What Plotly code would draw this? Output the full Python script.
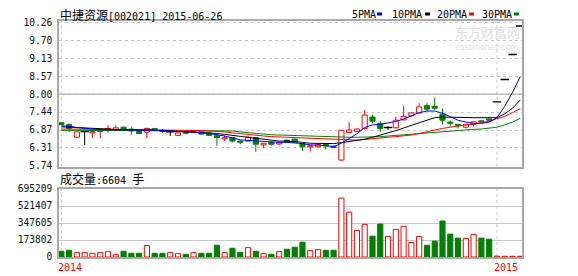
import plotly.graph_objects as go

# ---------------- data ----------------
opens = [7.10, 7.04, 6.64, 6.82, 6.78, 6.82, 6.86, 6.89, 6.96, 6.90,
         6.82, 6.80, 6.92, 6.86, 6.81, 6.70, 6.81, 6.79, 6.81, 6.78,
         6.69, 6.59, 6.63, 6.52, 6.52, 6.63, 6.40, 6.48, 6.43, 6.55,
         6.58, 6.44, 6.34, 6.34, 6.41, 6.36, 5.92, 6.79, 6.83, 6.92,
         7.28, 7.08, 6.95, 6.94, 7.19, 7.32, 7.41, 7.64, 7.62, 7.37,
         7.12, 7.05, 6.96, 7.05, 7.16, 7.22, 7.76, 8.47, 9.26, 10.16]
highs = [7.11, 7.08, 6.82, 6.83, 6.84, 6.87, 7.02, 7.01, 6.97, 6.96,
         6.84, 6.94, 6.93, 6.90, 6.82, 6.80, 6.82, 6.83, 6.82, 6.79,
         6.70, 6.69, 6.64, 6.53, 6.69, 6.64, 6.46, 6.49, 6.49, 6.56,
         6.60, 6.45, 6.40, 6.43, 6.42, 6.37, 6.87, 7.12, 6.92, 7.50,
         7.35, 7.15, 6.98, 7.29, 7.64, 7.43, 7.72, 7.72, 7.90, 7.55,
         7.18, 7.06, 7.06, 7.14, 7.18, 7.23, 7.76, 8.47, 9.26, 10.16]
lows = [7.03, 6.80, 6.62, 6.40, 6.62, 6.61, 6.78, 6.84, 6.84, 6.72,
        6.74, 6.61, 6.83, 6.78, 6.68, 6.68, 6.73, 6.77, 6.72, 6.68,
        6.37, 6.52, 6.48, 6.42, 6.51, 6.18, 6.29, 6.38, 6.38, 6.48,
        6.46, 6.21, 6.19, 6.33, 6.26, 6.30, 5.90, 6.78, 6.80, 6.90,
        7.08, 6.80, 6.87, 6.92, 7.18, 7.30, 7.40, 7.46, 7.50, 7.05,
        6.98, 6.92, 6.92, 6.98, 7.10, 7.15, 7.76, 8.47, 9.26, 10.16]
closes = [7.04, 6.92, 6.81, 6.82, 6.82, 6.86, 6.92, 6.94, 6.86, 6.84,
          6.76, 6.92, 6.86, 6.82, 6.81, 6.78, 6.77, 6.82, 6.74, 6.70,
          6.63, 6.63, 6.52, 6.48, 6.63, 6.42, 6.45, 6.42, 6.48, 6.49,
          6.48, 6.34, 6.37, 6.41, 6.36, 6.32, 6.86, 6.87, 6.90, 7.34,
          7.15, 6.92, 6.95, 7.18, 7.30, 7.41, 7.60, 7.53, 7.56, 7.18,
          7.08, 7.01, 7.05, 7.13, 7.13, 7.18, 7.76, 8.47, 9.26, 10.16]
volumes = [58500, 68800, 44700, 44700, 37900, 44700, 55000, 24000, 58500, 37900,
           37900, 117000, 37900, 37900, 44700, 34400, 27500, 44700, 37900, 37900,
           120000, 44700, 89500, 48000, 96000, 58500, 34400, 27500, 55000, 79000,
           100000, 151000, 65000, 75700, 68800, 68800, 602000, 458000, 272000, 334000,
           213000, 337000, 210000, 282000, 313000, 148000, 210000, 120000, 162000, 368000,
           234000, 193000, 189000, 231000, 193000, 182000, 9000, 7500, 7000, 6604]

ma5 = [7.00, 6.99, 6.95, 6.92, 6.90, 6.88, 6.88, 6.88, 6.88, 6.88,
       6.87, 6.86, 6.86, 6.85, 6.84, 6.82, 6.81, 6.80, 6.79, 6.76,
       6.73, 6.68, 6.62, 6.56, 6.54, 6.52, 6.50, 6.48, 6.48, 6.48,
       6.47, 6.44, 6.40, 6.40, 6.38, 6.34, 6.45, 6.60, 6.75, 6.95,
       7.03, 7.05, 7.10, 7.14, 7.22, 7.33, 7.42, 7.47, 7.47, 7.40,
       7.28, 7.18, 7.12, 7.08, 7.08, 7.12, 7.26, 7.62, 8.06, 8.56]
ma10 = [6.97, 6.96, 6.96, 6.95, 6.93, 6.92, 6.90, 6.88, 6.87, 6.87,
        6.87, 6.87, 6.86, 6.85, 6.83, 6.82, 6.82, 6.81, 6.80, 6.78,
        6.76, 6.73, 6.70, 6.66, 6.62, 6.60, 6.58, 6.55, 6.52, 6.52,
        6.51, 6.48, 6.45, 6.45, 6.45, 6.44, 6.47, 6.50, 6.53, 6.58,
        6.64, 6.70, 6.78, 6.85, 6.94, 7.02, 7.10, 7.18, 7.26, 7.28,
        7.27, 7.26, 7.26, 7.26, 7.26, 7.25, 7.26, 7.38, 7.56, 7.82]
ma20 = [6.90, 6.90, 6.89, 6.89, 6.88, 6.88, 6.88, 6.88, 6.88, 6.88,
        6.88, 6.88, 6.88, 6.87, 6.87, 6.86, 6.86, 6.85, 6.85, 6.84,
        6.83, 6.81, 6.78, 6.75, 6.72, 6.70, 6.68, 6.66, 6.65, 6.64,
        6.62, 6.60, 6.59, 6.58, 6.57, 6.56, 6.55, 6.55, 6.55, 6.57,
        6.60, 6.62, 6.64, 6.66, 6.68, 6.71, 6.76, 6.82, 6.87, 6.92,
        6.96, 6.99, 7.02, 7.05, 7.10, 7.15, 7.22, 7.30, 7.42, 7.55]
ma30 = [6.86, 6.86, 6.86, 6.86, 6.86, 6.86, 6.86, 6.86, 6.86, 6.86,
        6.86, 6.86, 6.86, 6.86, 6.86, 6.86, 6.86, 6.86, 6.86, 6.86,
        6.86, 6.85, 6.84, 6.81, 6.78, 6.76, 6.74, 6.72, 6.71, 6.70,
        6.69, 6.68, 6.67, 6.66, 6.65, 6.64, 6.64, 6.64, 6.64, 6.64,
        6.65, 6.66, 6.68, 6.70, 6.72, 6.74, 6.76, 6.78, 6.80, 6.83,
        6.85, 6.87, 6.88, 6.89, 6.90, 6.92, 6.96, 7.03, 7.12, 7.24]

price_ticks = [5.74, 6.31, 6.87, 7.44, 8.00, 8.57, 9.13, 9.70, 10.26]
volume_ticks = [0, 173802, 347605, 521407, 695209]
year_marks = [(0, "2014"), (56, "2015")]
title_name = "中捷资源"
title_code = "[002021] 2015-06-26"
volume_label = "成交量"
volume_last = "6604"
ma_names = ["5PMA", "10PMA", "20PMA", "30PMA"]

# ---------------- styling ----------------
RED = "#ff0000"
GREEN = "#008000"
BLUE = "#0000ff"
BLACK = "#000000"
GRID = "#c8c8c8"
FRAME = "#a8a8a8"
MONO = "DejaVu Sans Mono"
CJK = "Noto Sans CJK SC"

W, H = 578, 276
L, R, T, B = 59, 56, 21, 19
PW, PH = W - L - R, H - T - B


def px(x):
    return (x - L) / PW


def py(y):
    return (H - B - y) / PH


n = len(closes)
xs = list(range(n))
up = [i for i in xs if closes[i] > opens[i]]
down = [i for i in xs if closes[i] < opens[i]]
flat = [i for i in xs if closes[i] == opens[i]]

fig = go.Figure()
BW = 0.66


def wick_xy(ids):
    wx, wy = [], []
    for i in ids:
        top = max(opens[i], closes[i])
        bot = min(opens[i], closes[i])
        if highs[i] > top:
            wx += [i, i, None]
            wy += [highs[i], top, None]
        if lows[i] < bot:
            wx += [i, i, None]
            wy += [bot, lows[i], None]
    return wx, wy


for ids, col in ((up, RED), (down, GREEN), (flat, BLACK)):
    wx, wy = wick_xy(ids)
    fig.add_trace(go.Scatter(x=wx, y=wy, mode="lines", line=dict(color=col, width=1),
                             xaxis="x", yaxis="y", hoverinfo="skip"))

# bodies
fig.add_trace(go.Bar(x=up, base=[opens[i] for i in up], y=[closes[i] - opens[i] for i in up],
                     width=BW, marker=dict(color="white", line=dict(color=RED, width=1)),
                     xaxis="x", yaxis="y", hoverinfo="skip"))
fig.add_trace(go.Bar(x=down, base=[closes[i] for i in down], y=[opens[i] - closes[i] for i in down],
                     width=BW, marker=dict(color=GREEN, line=dict(color=GREEN, width=1)),
                     xaxis="x", yaxis="y", hoverinfo="skip"))
fig.add_trace(go.Scatter(x=flat, y=[closes[i] for i in flat], mode="markers",
                         marker=dict(symbol="line-ew", size=6, color=BLACK,
                                     line=dict(color=BLACK, width=1.4)),
                         xaxis="x", yaxis="y", hoverinfo="skip"))

# moving averages
for vals, col in ((ma30, GREEN), (ma20, RED), (ma10, BLACK), (ma5, BLUE)):
    fig.add_trace(go.Scatter(x=xs, y=vals, mode="lines", line=dict(color=col, width=1),
                             xaxis="x", yaxis="y", hoverinfo="skip"))

# volume
vol_up = [i for i in xs if closes[i] >= opens[i]]
vol_dn = [i for i in xs if closes[i] < opens[i]]
fig.add_trace(go.Bar(x=vol_up, y=[volumes[i] for i in vol_up], width=BW,
                     marker=dict(color="white", line=dict(color=RED, width=1)),
                     xaxis="x2", yaxis="y2", hoverinfo="skip"))
fig.add_trace(go.Bar(x=vol_dn, y=[volumes[i] for i in vol_dn], width=BW,
                     marker=dict(color=GREEN, line=dict(color=GREEN, width=1)),
                     xaxis="x2", yaxis="y2", hoverinfo="skip"))

shapes = []
for xi, _ in year_marks:
    for xr, yr in (("x", "y domain"), ("x2", "y2 domain")):
        shapes.append(dict(type="line", xref=xr, yref=yr, x0=xi, x1=xi, y0=0, y1=1,
                           line=dict(color=GRID, width=1, dash="3px,3px"), layer="below"))
shapes.append(dict(type="line", xref="x domain", yref="y", x0=0, x1=1, y0=price_ticks[4], y1=price_ticks[4],
                   line=dict(color="#b4b4b4", width=1.5), layer="below"))

# legend swatches
sw_cols = [BLUE, BLACK, RED, GREEN]
txt_x = [352, 392, 437, 482]
sw_x = [377, 425, 469, 514]
annotations = []
for name, tx, sx, col in zip(ma_names, txt_x, sw_x, sw_cols):
    annotations.append(dict(text=name, xref="paper", yref="paper", x=px(tx), y=py(14),
                            xanchor="left", yanchor="middle", showarrow=False,
                            font=dict(family=MONO, size=10, color="#000"), borderpad=0, borderwidth=0))
    shapes.append(dict(type="rect", xref="paper", yref="paper", x0=px(sx), x1=px(sx + 5),
                       y0=py(15.5), y1=py(12.5), fillcolor=col, line=dict(width=0)))

annotations.append(dict(
    text=f'{title_name}<span style="font-family:{MONO};font-size:10px">{title_code}</span>',
    xref="paper", yref="paper", x=px(59.5), y=py(14), xanchor="left", yanchor="middle",
    showarrow=False, font=dict(family=CJK, size=12, color="#000"), borderpad=0, borderwidth=0))
annotations.append(dict(
    text=f'{volume_label}<span style="font-family:{MONO};font-size:10px">:{volume_last} </span>手',
    xref="paper", yref="paper", x=px(59.5), y=py(178), xanchor="left", yanchor="middle",
    showarrow=False, font=dict(family=CJK, size=12, color="#000"), borderpad=0, borderwidth=0))
for xi, label in year_marks:
    annotations.append(dict(text=label, xref="x2", yref="paper", x=xi, y=py(267),
                            xanchor="left", yanchor="middle", xshift=-3, showarrow=False,
                            font=dict(family=MONO, size=10, color=RED), borderpad=0, borderwidth=0))
# watermark
annotations.append(dict(text="东方财富网", xref="paper", yref="paper", x=px(520), y=py(32),
                        xanchor="right", yanchor="middle", showarrow=False,
                        font=dict(family=CJK, size=13, color="#dedede"), borderpad=0, borderwidth=0))
annotations.append(dict(text="eastmoney.com", xref="paper", yref="paper", x=px(518), y=py(47),
                        xanchor="right", yanchor="middle", showarrow=False,
                        font=dict(family="DejaVu Sans", size=8, color="#dedede"), borderpad=0, borderwidth=0))

xr = [-0.30, 59.22]
common_x = dict(range=xr, showticklabels=False, showgrid=False, zeroline=False,
                showline=True, mirror=True, linecolor=FRAME, linewidth=1.5, ticks="")
fig.update_layout(
    width=W, height=H,
    margin=dict(l=L, r=R, t=T, b=B, autoexpand=False),
    paper_bgcolor="white", plot_bgcolor="white",
    showlegend=False, barmode="overlay", hovermode=False,
    xaxis=dict(domain=[0, 1], anchor="y", **common_x),
    xaxis2=dict(domain=[0, 1], anchor="y2", matches="x", **common_x),
    yaxis=dict(domain=[py(166.5), 1], range=[5.715, 10.32], tickvals=price_ticks,
               ticktext=[f"{v:.2f}" for v in price_ticks], showgrid=True, gridcolor=GRID,
               griddash="dot", gridwidth=1, zeroline=False, showline=True, mirror=True,
               linecolor=FRAME, linewidth=1.5, ticks="", ticklabelstandoff=3,
               tickfont=dict(family=MONO, size=9.6, color="#111")),
    yaxis2=dict(domain=[0, py(189)], range=[0, volume_ticks[-1]], tickvals=volume_ticks,
                ticktext=[str(v) for v in volume_ticks], showgrid=True, gridcolor=GRID,
                gridwidth=1, zeroline=False, showline=True, mirror=True,
                linecolor=FRAME, linewidth=1.5, ticks="", ticklabelstandoff=3,
                tickfont=dict(family=MONO, size=9.6, color="#111")),
    shapes=shapes, annotations=annotations,
)

fig.write_html("out.html")
